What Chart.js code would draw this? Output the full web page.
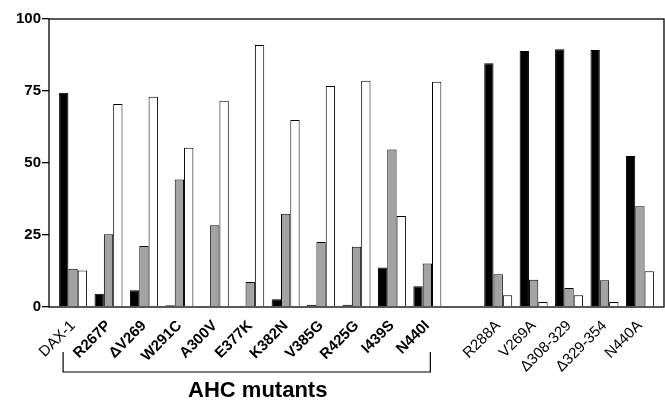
<!DOCTYPE html>
<html>
<head>
<meta charset="utf-8">
<script src="https://cdn.jsdelivr.net/npm/chart.js@4/dist/chart.umd.min.js"></script>
<style>
  html, body { margin: 0; padding: 0; background: #fff; }
  canvas { display: block; }
</style>
</head>
<body>
<canvas id="c" width="665" height="401"></canvas>
<script>
const categories = ['DAX-1','R267P','\u0394V269','W291C','A300V','E377K','K382N','V385G','R425G','I439S','N440I','','R288A','V269A','\u0394308-329','\u0394329-354','N440A'];
const boldLabels = ['R267P','\u0394V269','W291C','A300V','E377K','K382N','V385G','R425G','I439S','N440I'];
const blackValues = [74.4, 4.6, 5.8, 0.6, 0.2, 0.2, 2.7, 0.8, 0.8, 13.7, 7.2, null, 84.6, 88.9, 89.5, 89.2, 52.4];
const grayValues  = [13.3, 25.3, 21.2, 44.3, 28.4, 8.7, 32.4, 22.6, 20.9, 54.7, 15.1, null, 11.4, 9.5, 6.6, 9.3, 35.0];
const whiteValues = [12.7, 70.5, 73.0, 55.3, 71.6, 91.0, 64.9, 76.7, 78.6, 31.6, 78.2, null, 4.1, 1.7, 4.1, 1.7, 12.4];
const yTicks = [0, 25, 50, 75, 100];
const groupLabel = 'AHC mutants';
const groupFirst = 0, groupLast = 10;

const FONT = '"Liberation Sans", Arial, Helvetica, sans-serif';
const toXY = arr => arr.map((v, i) => ({ x: i, y: v }));

const framePlugin = {
  id: 'frame',
  afterDraw(chart) {
    const { ctx, chartArea: a, scales } = chart;
    ctx.save();
    ctx.strokeStyle = '#000';
    ctx.lineWidth = 1.3;
    ctx.strokeRect(a.left, a.top, a.right - a.left, a.bottom - a.top);
    // bracket under AHC mutants
    const xs = scales.x;
    const x0 = xs.getPixelForValue(groupFirst) - 10;
    const x1 = xs.getPixelForValue(groupLast) + 3;
    const yTop = a.bottom + 45, yBot = a.bottom + 65;
    ctx.lineWidth = 1.2;
    ctx.beginPath();
    ctx.moveTo(x0, yTop); ctx.lineTo(x0, yBot); ctx.lineTo(x1, yBot); ctx.lineTo(x1, yTop);
    ctx.stroke();
    ctx.fillStyle = '#000';
    ctx.font = 'bold 22px ' + FONT;
    ctx.textAlign = 'center';
    ctx.textBaseline = 'alphabetic';
    ctx.fillText(groupLabel, (x0 + x1) / 2 + 11, a.bottom + 90);
    ctx.restore();
  }
};

new Chart(document.getElementById('c'), {
  type: 'bar',
  data: {
    datasets: [
      { label: 'black', data: toXY(blackValues), backgroundColor: '#000', borderColor: '#000', borderWidth: 1 },
      { label: 'gray',  data: toXY(grayValues),  backgroundColor: '#a3a3a3', borderColor: '#000', borderWidth: 1 },
      { label: 'white', data: toXY(whiteValues), backgroundColor: '#fff', borderColor: '#000', borderWidth: 1 }
    ]
  },
  options: {
    responsive: false,
    animation: false,
    layout: { padding: { top: 19, right: 1, left: 0, bottom: 0 } },
    datasets: { bar: { categoryPercentage: 0.79, barPercentage: 1.0 } },
    plugins: { legend: { display: false }, tooltip: { enabled: false } },
    scales: {
      x: {
        type: 'linear',
        min: -0.68,
        max: 16.68,
        offset: false,
        grid: { display: false, offset: false, drawTicks: false },
        border: { display: false },
        afterFit(scale) { scale.height = 94; },
        ticks: {
          stepSize: 1,
          autoSkip: false,
          includeBounds: false,
          maxRotation: 45,
          minRotation: 45,
          padding: 10,
          color: '#000',
          font: (ctx) => {
            const v = ctx.tick ? ctx.tick.value : 0;
            const lab = categories[v] || '';
            return { family: FONT, size: 15, weight: boldLabels.includes(lab) ? 'bold' : 'normal' };
          },
          callback: (v) => (Number.isInteger(v) && categories[v] !== undefined) ? categories[v] : ''
        }
      },
      y: {
        min: 0,
        max: 100,
        afterFit(scale) { scale.width = 49; },
        afterBuildTicks(scale) { scale.ticks = yTicks.map(v => ({ value: v })); },
        grid: { drawOnChartArea: false, drawTicks: true, tickLength: 7, color: '#000', lineWidth: 1.3 },
        border: { display: false },
        ticks: {
          padding: 1,
          color: '#000',
          font: { family: FONT, size: 15, weight: 'bold' }
        }
      }
    }
  },
  plugins: [framePlugin]
});
</script>
</body>
</html>
